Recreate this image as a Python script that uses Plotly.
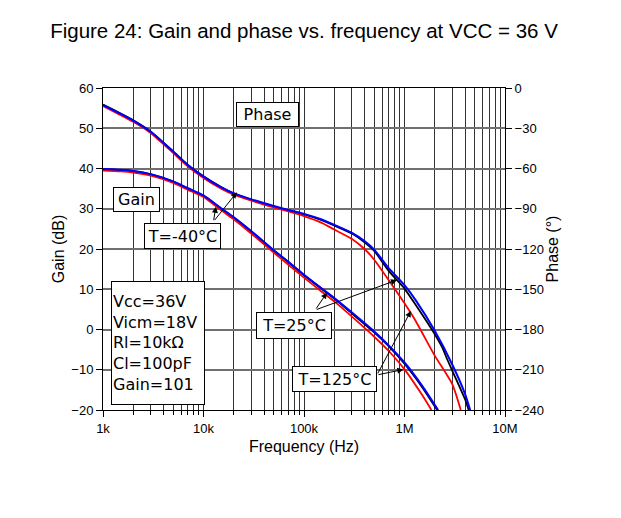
import plotly.graph_objects as go

# ---------------- data ----------------
freq_gain_blue = [1e3, 1.5e3, 2e3, 3e3, 5e3, 7e3, 1e4, 1.5e4, 2e4, 3e4, 5e4, 7e4, 1e5, 1.5e5, 2e5, 3e5, 5e5, 7e5, 1e6, 1.5e6, 2.16e6]
gain_blue = [39.9, 39.7, 39.4, 38.6, 36.8, 35.1, 33.3, 30.1, 27.9, 24.4, 19.7, 16.8, 13.6, 10.2, 7.8, 4.2, -0.5, -4.0, -8.2, -14.0, -20.0]

freq_gain_black = [1e3, 1.5e3, 2e3, 3e3, 5e3, 7e3, 1e4, 1.5e4, 2e4, 3e4, 5e4, 7e4, 1e5, 1.5e5, 2e5, 3e5, 5e5, 7e5, 1e6, 1.5e6, 2.12e6]
gain_black = [39.8, 39.6, 39.3, 38.5, 36.7, 35.0, 33.2, 30.0, 27.8, 24.3, 19.6, 16.7, 13.5, 10.1, 7.7, 4.0, -0.7, -4.2, -8.5, -14.3, -20.0]

freq_gain_red = [1e3, 1.5e3, 2e3, 3e3, 5e3, 7e3, 1e4, 1.5e4, 2e4, 3e4, 5e4, 7e4, 1e5, 1.5e5, 2e5, 3e5, 5e5, 7e5, 1e6, 1.5e6, 1.85e6]
gain_red = [39.5, 39.3, 39.0, 38.2, 36.4, 34.7, 32.9, 29.6, 27.4, 23.8, 19.1, 16.1, 12.9, 9.4, 7.0, 3.2, -1.8, -5.4, -9.9, -16.3, -20.0]

freq_phase_blue = [1e3, 1.5e3, 2e3, 3e3, 5e3, 7e3, 1e4, 1.5e4, 2e4, 3e4, 5e4, 7e4, 1e5, 1.5e5, 2e5, 3e5, 4e5, 5e5, 7e5, 1e6, 1.3e6, 2e6, 3e6, 4e6, 4.5e6]
phase_blue = [-12.7, -19.3, -24.3, -32.8, -47.5, -57.5, -66.0, -74.0, -78.5, -83.0, -88.0, -91.0, -93.8, -98.0, -102.0, -108.0, -114.0, -120.5, -134.5, -147.0, -158.5, -181.0, -206.5, -228.0, -240.0]

freq_phase_black = [1e3, 1.5e3, 2e3, 3e3, 5e3, 7e3, 1e4, 1.5e4, 2e4, 3e4, 5e4, 7e4, 1e5, 1.5e5, 2e5, 3e5, 4e5, 5e5, 7e5, 1e6, 1.3e6, 2e6, 2.4e6, 2.6e6, 3e6, 4e6, 4.35e6]
phase_black = [-12.4, -19.0, -24.0, -32.5, -47.2, -57.3, -65.8, -73.8, -78.5, -83.2, -88.3, -91.4, -94.2, -98.5, -102.5, -108.5, -115.0, -121.5, -136.5, -149.5, -162.0, -183.5, -194.0, -200.5, -211.0, -232.0, -240.0]

freq_phase_red = [1e3, 1.5e3, 2e3, 3e3, 5e3, 7e3, 1e4, 1.5e4, 2e4, 3e4, 5e4, 7e4, 1e5, 1.5e5, 2e5, 3e5, 4e5, 5e5, 7e5, 1e6, 1.3e6, 2e6, 3e6, 3.63e6]
phase_red = [-13.5, -20.2, -25.2, -33.7, -48.5, -58.5, -67.0, -75.0, -79.5, -84.0, -89.0, -92.0, -95.5, -100.5, -105.5, -112.5, -120.0, -128.0, -143.5, -160.5, -174.0, -199.5, -221.0, -240.0]

x_tick_vals = [1e3, 1e4, 1e5, 1e6, 1e7]
x_tick_text = ["1k", "10k", "100k", "1M", "10M"]
x_minor_vals = [m * 10 ** e for e in range(3, 7) for m in range(2, 10)]

conditions = ["Vcc=36V", "Vicm=18V", "Rl=10kΩ", "Cl=100pF", "Gain=101"]

FONT = "Arial, Liberation Sans, sans-serif"
WIDE = "DejaVu Sans, Verdana, sans-serif"

fig = go.Figure()

spl = dict(shape="spline", smoothing=0.6)
# gain curves
fig.add_trace(go.Scatter(x=freq_gain_black, y=gain_black, mode="lines", line=dict(color="black", width=2, **spl), showlegend=False))
fig.add_trace(go.Scatter(x=freq_gain_red, y=gain_red, mode="lines", line=dict(color="#ff0000", width=1.8, **spl), showlegend=False))
fig.add_trace(go.Scatter(x=freq_gain_blue, y=gain_blue, mode="lines", line=dict(color="#0000ff", width=2, **spl), showlegend=False))

# phase curves (right axis)
fig.add_trace(go.Scatter(x=freq_phase_black, y=phase_black, yaxis="y2", mode="lines", line=dict(color="black", width=1.8, **spl), showlegend=False))
fig.add_trace(go.Scatter(x=freq_phase_red, y=phase_red, yaxis="y2", mode="lines", line=dict(color="#ff0000", width=1.8, **spl), showlegend=False))
fig.add_trace(go.Scatter(x=freq_phase_blue, y=phase_blue, yaxis="y2", mode="lines", line=dict(color="#0000ff", width=2, **spl), showlegend=False))

box = dict(xref="x", yref="y", showarrow=False, bgcolor="white", bordercolor="black", borderwidth=1,
           font=dict(family=WIDE, size=16, color="black"))

anns = []
anns.append(dict(x=4.6375, y=53.47, text="Phase", width=59, height=21, **box))
anns.append(dict(x=3.334, y=32.3, text="Gain", width=43, height=21, **box))
anns.append(dict(x=3.792, y=23.23, text="T=-40°C", width=73, height=22, **box))
anns.append(dict(x=4.904, y=0.92, text="T=25°C", width=72, height=23, **box))
anns.append(dict(x=5.303, y=-12.42, text="T=125°C", width=81, height=22, **box))
anns.append(dict(x=3.548, y=-3.35, text="<br>".join(conditions), width=90, height=120, align="left", **box))

arrow = dict(xref="x", yref="y", axref="x", ayref="y", text="", showarrow=True,
             arrowhead=2, arrowsize=1.2, arrowwidth=1, arrowcolor="black")
# T=-40°C
anns.append(dict(x=4.123, y=30.5, ax=4.099, ay=26.8, **arrow))
anns.append(dict(x=4.332, y=34.1, ax=4.099, ay=26.8, **arrow))
# T=25°C
anns.append(dict(x=5.228, y=9.14, ax=5.112, ay=4.84, **arrow))
anns.append(dict(x=5.925, y=12.3, ax=5.112, ay=4.84, **arrow))
# T=125°C
anns.append(dict(x=5.988, y=-9.94, ax=5.726, ay=-11.3, **arrow))
anns.append(dict(x=6.063, y=4.6, ax=5.726, ay=-11.3, **arrow))

fig.update_layout(
    width=621, height=518, autosize=False,
    margin=dict(l=95, r=124, t=80, b=116),
    paper_bgcolor="white", plot_bgcolor="white",
    font=dict(family=FONT, size=13, color="black"),
    title=dict(text="Figure 24: Gain and phase vs. frequency at VCC = 36 V",
               x=0.5, xanchor="center", xref="paper", y=1 - 23 / 518, yanchor="middle",
               font=dict(family=FONT, size=20.5, color="black")),
    annotations=anns,
    xaxis=dict(
        type="log", range=[3, 7],
        tickvals=x_tick_vals, ticktext=x_tick_text,
        ticks="outside", ticklen=6, tickcolor="black",
        showgrid=True, gridcolor="#333333", gridwidth=1,
        minor=dict(tickvals=x_minor_vals, showgrid=True, gridcolor="#333333", gridwidth=1,
                   ticks="outside", ticklen=4, tickcolor="black"),
        showline=True, linecolor="black", linewidth=1, mirror=True,
        zeroline=False,
        title=dict(text="Frequency (Hz)", font=dict(family=FONT, size=16), standoff=6),
        tickfont=dict(family=FONT, size=13),
    ),
    yaxis=dict(
        range=[-20, 60], dtick=10, tick0=0,
        ticks="outside", ticklen=6, tickcolor="black",
        showgrid=True, gridcolor="#707070", gridwidth=1.5,
        showline=True, linecolor="black", linewidth=1, mirror=True,
        zeroline=False,
        title=dict(text="Gain (dB)", font=dict(family=FONT, size=16), standoff=2),
        tickfont=dict(family=FONT, size=13),
    ),
    yaxis2=dict(
        range=[-240, 0], dtick=30, tick0=0, overlaying="y", side="right",
        ticks="outside", ticklen=6, tickcolor="black",
        showgrid=False, zeroline=False,
        showline=True, linecolor="black", linewidth=1,
        title=dict(text="Phase (°)", font=dict(family=FONT, size=16), standoff=3),
        tickfont=dict(family=FONT, size=13),
    ),
)

fig.write_html("out.html")
